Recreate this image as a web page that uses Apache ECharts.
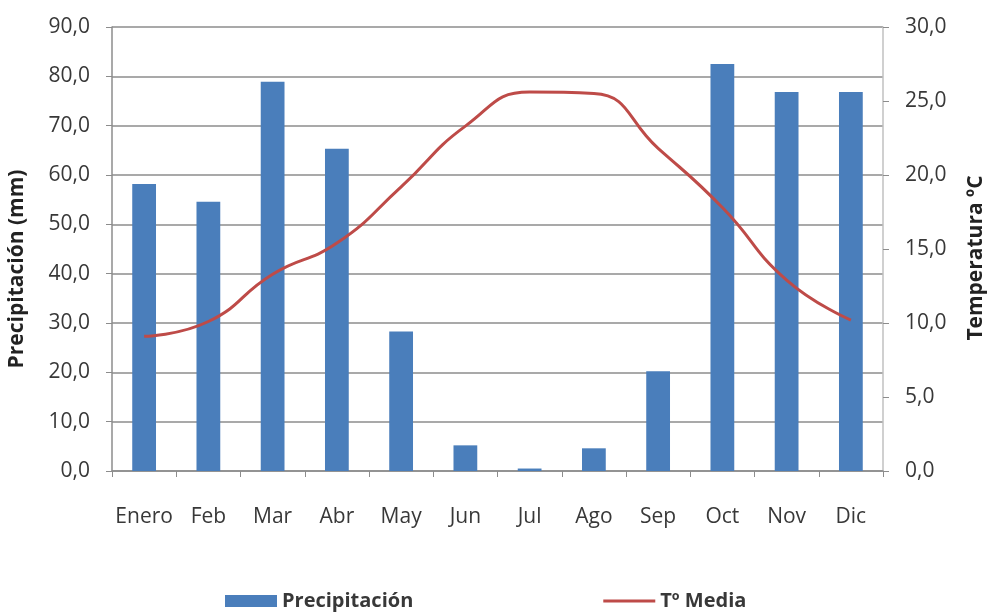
<!DOCTYPE html>
<html><head><meta charset="utf-8">
<script src="https://cdn.jsdelivr.net/npm/echarts@6/dist/echarts.min.js"></script>
<style>html,body{margin:0;padding:0;background:#fff}#c{width:987px;height:614px}</style>
</head><body><div id="c"></div>
<script>
const months = ['Enero','Feb','Mar','Abr','May','Jun','Jul','Ago','Sep','Oct','Nov','Dic'];
const precipitacion = [58.2, 54.6, 78.9, 65.3, 28.3, 5.2, 0.5, 4.6, 20.2, 82.5, 76.8, 76.8];
const temperatura = [9.1, 10.1, 13.3, 15.4, 19.2, 23.3, 25.6, 25.5, 21.8, 17.8, 12.9, 10.2];
const fmt = v => v.toFixed(1).replace('.', ',');
const font = '"Open Sans", "Liberation Sans", sans-serif';
const txt = '#383838';
const chart = echarts.init(document.getElementById('c'));
chart.setOption({
  animation: false,
  backgroundColor: '#fff',
  textStyle: { fontFamily: font },
  grid: { left: 112, right: 104, top: 27, bottom: 143, outerBoundsMode: 'none', containLabel: false },
  legend: {
    bottom: -2, left: 220, itemGap: 190, itemWidth: 52, itemHeight: 12,
    symbolKeepAspect: true,
    textStyle: { fontSize: 20, fontWeight: 'bold', color: txt, fontFamily: font },
    data: [
      { name: 'Precipitación', icon: 'rect' },
      { name: 'Tº Media', icon: 'path://M0,0H52V3H0Z' }
    ]
  },
  xAxis: {
    type: 'category', data: months,
    axisLine: { lineStyle: { color: '#8c8c8c', width: 1.5 } },
    axisTick: { show: true, alignWithLabel: false, length: 6, lineStyle: { color: '#8c8c8c' } },
    axisLabel: { interval: 0, color: txt, fontSize: 21, margin: 36, fontFamily: font }
  },
  yAxis: [{
    type: 'value', min: 0, max: 90, interval: 10,
    name: 'Precipitación (mm)', nameLocation: 'middle', nameGap: 84, nameRotate: 90,
    nameTextStyle: { fontSize: 21, fontWeight: 'bold', color: '#222', fontFamily: font, padding: [0, 40, 0, 0] },
    axisLine: { show: true, lineStyle: { color: '#8c8c8c', width: 1.5 } },
    axisTick: { show: true, length: 6, lineStyle: { color: '#8c8c8c' } },
    axisLabel: { formatter: fmt, color: txt, fontSize: 21, margin: 22, fontFamily: font },
    splitLine: { lineStyle: { color: '#8c8c8c', width: 1.5 } }
  }, {
    type: 'value', min: 0, max: 30, interval: 5, position: 'right',
    name: 'Temperatura ºC', nameLocation: 'middle', nameGap: 83, nameRotate: 90,
    nameTextStyle: { fontSize: 21, fontWeight: 'bold', color: '#222', fontFamily: font, padding: [0, 18, 0, 0] },
    axisLine: { show: true, lineStyle: { color: '#c0c0c0', width: 1.5 } },
    axisTick: { show: true, length: 6, lineStyle: { color: '#8c8c8c' } },
    axisLabel: { formatter: fmt, color: txt, fontSize: 21, margin: 22, fontFamily: font },
    splitLine: { show: false }
  }],
  series: [{
    name: 'Precipitación', type: 'bar', data: precipitacion, yAxisIndex: 0,
    barWidth: '37%', itemStyle: { color: '#4a7ebb' }
  }, {
    name: 'Tº Media', type: 'line', data: temperatura, yAxisIndex: 1,
    smooth: 0.5, symbol: 'none', lineStyle: { color: '#be4b48', width: 3 },
    itemStyle: { color: '#be4b48' }
  }]
});
</script></body></html>
